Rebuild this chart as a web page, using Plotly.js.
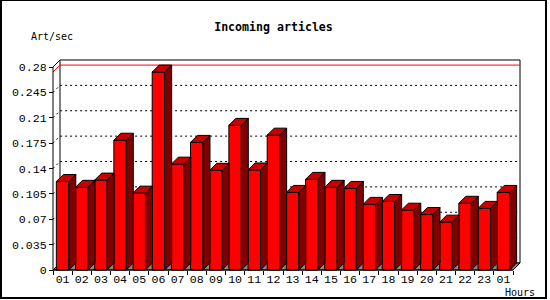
<!DOCTYPE html>
<html>
<head>
<meta charset="utf-8">
<script src="https://cdn.plot.ly/plotly-3.0.1.min.js"></script>
<style>
html,body{margin:0;padding:0;background:#fff;}
#wrap{position:relative;width:550px;height:300px;}
#chart{position:absolute;left:0;top:0;width:550px;height:300px;}
#frame{position:absolute;left:0;top:0;width:547px;height:299px;box-sizing:border-box;
  border-left:2px solid #000;border-top:1px solid #000;border-right:2px solid #000;border-bottom:2px solid #000;pointer-events:none;}
</style>
</head>
<body>
<div id="wrap"><div id="chart"></div><div id="frame"></div></div>
<script>
// ---- data ----
const hours = ["01","02","03","04","05","06","07","08","09","10","11","12",
               "13","14","15","16","17","18","19","20","21","22","23","01"];
const rates = [0.122,0.114,0.124,0.179,0.106,0.273,0.146,0.176,0.1375,0.1995,0.138,0.186,
               0.107,0.125,0.114,0.1125,0.0905,0.0945,0.0825,0.0765,0.066,0.092,0.085,0.107];
const yTickVals = [0,0.035,0.07,0.105,0.14,0.175,0.21,0.245,0.28];
const yTickText = ["0","0.035","0.07","0.105","0.14","0.175","0.21","0.245","0.28"];
const chartTitle = "Incoming articles";
const yLabel = "Art/sec";
const xLabel = "Hours";

// ---- geometry (pixels) ----
const W = 550, H = 300;
const frontLeft = 53, frontBottom = 270, frontRight = 513, frontTop = 67;
const L = 50, R = 524, T = 56, B = 274;
const DXp = 7, DYp = 7;
const n = hours.length;
const yMaxVal = 0.28;
const slotPx = (frontRight - frontLeft) / n;
const yPx = (frontBottom - frontTop) / yMaxVal;
const dx = DXp / slotPx, dy = DYp / yPx;
const xmin = -0.5 - (frontLeft - L) / slotPx;
const xmax = xmin + (R - L) / slotPx;
const ymin = -(B - frontBottom) / yPx;
const ymax = ymin + (B - T) / yPx;
const barW = 0.65;
const xA = -0.5, xB = n - 0.5;

const xs = hours.map((_, i) => i);

// side faces and top faces
const sideX = [], sideY = [], topX = [], topY = [];
rates.forEach((v, i) => {
  const l = i - barW / 2, r = i + barW / 2;
  sideX.push(r, r + dx, r + dx, r, r, null);
  sideY.push(v, v + dy, dy, 0, v, null);
  topX.push(l, l + dx, r + dx, r, l, null);
  topY.push(v, v + dy, v + dy, v, v, null);
});

const traces = [
  {type:'bar', x: xs, y: rates, width: barW,
   marker:{color:'#ff0000', line:{color:'#000', width:1}}, hoverinfo:'skip'},
  {type:'scatter', mode:'lines', x: sideX, y: sideY, fill:'toself', fillcolor:'#800000',
   line:{color:'#000', width:1}, hoverinfo:'skip', connectgaps:false},
  {type:'scatter', mode:'lines', x: topX, y: topY, fill:'toself', fillcolor:'#c80000',
   line:{color:'#000', width:1}, hoverinfo:'skip', connectgaps:false}
];

const shapes = [];
const P = (a, b) => a + ',' + b;
// back wall
shapes.push({type:'path', xref:'x', yref:'y', layer:'below',
  path:'M'+P(xA+dx,dy)+' L'+P(xA+dx,yMaxVal+dy)+' L'+P(xB+dx,yMaxVal+dy)+' L'+P(xB+dx,dy)+' Z',
  fillcolor:'#ffffff', line:{color:'#000', width:1}});
// floor
shapes.push({type:'path', xref:'x', yref:'y', layer:'below',
  path:'M'+P(xA,0)+' L'+P(xB,0)+' L'+P(xB+dx,dy)+' L'+P(xA+dx,dy)+' Z',
  fillcolor:'#888888', line:{color:'#000', width:1}});
// grid lines (3D)
yTickVals.forEach(v => {
  if (v <= 0 || v >= yMaxVal) return;
  shapes.push({type:'path', xref:'x', yref:'y', layer:'below',
    path:'M'+P(xA,v)+' L'+P(xA+dx,v+dy)+' L'+P(xB+dx,v+dy),
    line:{color:'#000', width:1, dash:'2px,3px'}});
});
// max line
const vmax = Math.max(...rates);
shapes.push({type:'path', xref:'x', yref:'y', layer:'below',
  path:'M'+P(xA,vmax)+' L'+P(xA+dx,vmax+dy)+' L'+P(xB+dx,vmax+dy),
  line:{color:'#ff0000', width:1}});
// top-left slant of wall
shapes.push({type:'path', xref:'x', yref:'y', layer:'above',
  path:'M'+P(xA,yMaxVal)+' L'+P(xA+dx,yMaxVal+dy),
  line:{color:'#000', width:1}});
// front axes
shapes.push({type:'path', xref:'x', yref:'y', layer:'above',
  path:'M'+P(xA,yMaxVal)+' L'+P(xA,0)+' L'+P(xB,0),
  line:{color:'#000', width:1}});

const tickFont = {family:'Liberation Mono, DejaVu Sans Mono, monospace', size:11.6, color:'#000'};
const labFont = {family:'DejaVu Sans Mono, monospace', size:10, color:'#000'};

const minorVals = [];
for (let i = 0; i <= n; i++) minorVals.push(i - 0.5);

const layout = {
  width: W, height: H,
  margin:{l:L, r:W-R, t:T, b:H-B, pad:0},
  paper_bgcolor:'#ffffff', plot_bgcolor:'rgba(0,0,0,0)',
  showlegend:false,
  title:{text: chartTitle, font:{family:'DejaVu Sans Mono, monospace', size:11.6, weight:'bold', color:'#000'},
         x: 273.5/W, xanchor:'center', xref:'container', y: 1-27/H, yanchor:'middle', yref:'container'},
  xaxis:{range:[xmin,xmax], showgrid:false, zeroline:false, showline:false,
         anchor:'free', position:(B-frontBottom)/(B-T),
         tickmode:'array', tickvals: xs, ticktext: hours, ticks:'', tickfont: tickFont,
         minor:{tickmode:'array', tickvals: minorVals, ticks:'outside', ticklen:4, tickcolor:'#000', tickwidth:1, showgrid:false},
         fixedrange:true},
  yaxis:{range:[ymin,ymax], showgrid:false, zeroline:false, showline:false,
         anchor:'free', position:(frontLeft-L)/(R-L),
         tickmode:'array', tickvals: yTickVals, ticktext: yTickText, ticks:'outside', ticklen:4,
         tickcolor:'#000', tickwidth:1, tickfont: tickFont, fixedrange:true},
  shapes: shapes,
  annotations:[
    {text: yLabel, xref:'paper', yref:'paper', x:(29.7-L)/(R-L), y:(B-37)/(B-T),
     xanchor:'left', yanchor:'middle', showarrow:false, font: labFont, borderpad:0},
    {text: xLabel, xref:'paper', yref:'paper', x:(504-L)/(R-L), y:(B-292)/(B-T),
     xanchor:'left', yanchor:'middle', showarrow:false, font: labFont, borderpad:0}
  ]
};

Plotly.newPlot('chart', traces, layout, {displayModeBar:false, staticPlot:true});
</script>
</body>
</html>
